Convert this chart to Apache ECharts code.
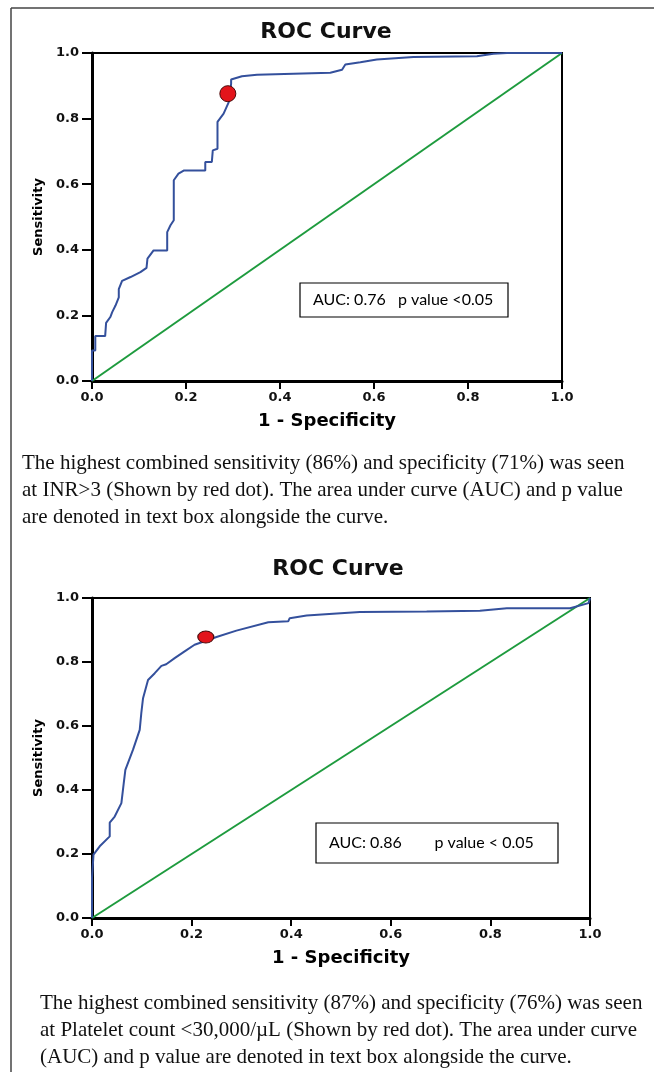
<!DOCTYPE html>
<html>
<head>
  <meta charset="utf-8">
  <title>ROC curves - INR and platelet count</title>
  <script src="https://cdn.jsdelivr.net/npm/echarts@6/dist/echarts.min.js"></script>
  <style>
    html, body { margin: 0; padding: 0; background: #fff; }
    #chart { width: 654px; height: 1072px; }
  </style>
</head>
<body>
  <div id="chart"></div>
<script>
  // INR ROC curve (1 - specificity, sensitivity)
  const inrFpr = [0, 0, 0.007, 0.007, 0.028, 0.030, 0.039, 0.043, 0.050, 0.057,
    0.057, 0.064, 0.082, 0.103, 0.116, 0.118, 0.131, 0.160, 0.160, 0.167,
    0.174, 0.174, 0.184, 0.196, 0.241, 0.241, 0.255, 0.257, 0.267, 0.267,
    0.280, 0.291, 0.296, 0.296, 0.319, 0.351, 0.507, 0.532, 0.539, 0.571,
    0.606, 0.684, 0.819, 0.854, 0.883, 1.0];
  const inrTpr = [0, 0.093, 0.093, 0.137, 0.137, 0.177, 0.195, 0.21, 0.23, 0.255,
    0.28, 0.305, 0.317, 0.332, 0.345, 0.373, 0.398, 0.398, 0.454, 0.475,
    0.49, 0.612, 0.632, 0.642, 0.642, 0.668, 0.668, 0.703, 0.708, 0.79,
    0.815, 0.85, 0.906, 0.919, 0.929, 0.934, 0.94, 0.949, 0.965, 0.972,
    0.98, 0.988, 0.99, 0.998, 1.0, 1.0];
  const inrCut = [0.289, 0.876];

  // Platelet count ROC curve
  const pltFpr = [0, 0, 0.003, 0.0155, 0.0356, 0.0356, 0.0456, 0.059, 0.0637, 0.067,
    0.0824, 0.0958, 0.099, 0.1025, 0.1125, 0.126, 0.1394, 0.149, 0.166, 0.186,
    0.206, 0.25, 0.29, 0.354, 0.394, 0.397, 0.431, 0.484, 0.538, 0.672,
    0.779, 0.833, 0.96, 0.997, 1.0];
  const pltTpr = [0, 0.125, 0.198, 0.224, 0.255, 0.298, 0.317, 0.359, 0.421, 0.463,
    0.526, 0.588, 0.64, 0.687, 0.744, 0.765, 0.788, 0.793, 0.812, 0.833,
    0.854, 0.878, 0.898, 0.924, 0.927, 0.937, 0.945, 0.951, 0.956, 0.958,
    0.96, 0.968, 0.968, 0.984, 1.0];
  const pltCut = [0.2285, 0.878];

  // reference diagonal
  const refX = [0, 1];
  const refY = [0, 1];

  const titles = ['ROC Curve', 'ROC Curve'];
  const boxTexts = ['AUC: 0.76   p value <0.05', 'AUC: 0.86        p value < 0.05'];
  const captions = [
    'The highest combined sensitivity (86%) and specificity (71%) was seen\n' +
    'at INR>3 (Shown by red dot). The area under curve (AUC) and p value\n' +
    'are denoted in text box alongside the curve.',
    'The highest combined sensitivity (87%) and specificity (76%) was seen\n' +
    'at Platelet count <30,000/\u00b5L (Shown by red dot). The area under curve\n' +
    '(AUC) and p value are denoted in text box alongside the curve.'
  ];

  function zip(xs, ys) {
    return xs.map(function (x, i) { return [x, ys[i]]; });
  }

  const boldFont = '"DejaVu Sans", sans-serif';

  function makeAxis(type, idx) {
    const isX = type === 'x';
    return {
      type: 'value',
      gridIndex: idx,
      min: 0,
      max: 1,
      interval: 0.2,
      name: isX ? '1 - Specificity' : 'Sensitivity',
      nameLocation: 'middle',
      nameGap: isX ? 31 : 47,
      nameTextStyle: {
        fontFamily: boldFont, fontWeight: 'bold', color: '#000',
        fontSize: isX ? 18 : 13
      },
      axisLine: { show: true, onZero: false, lineStyle: { color: '#000', width: 3 } },
      axisTick: { show: true, inside: false, length: isX ? 8 : 10, lineStyle: { color: '#000', width: 2 } },
      axisLabel: {
        margin: isX ? 10 : 13,
        fontFamily: boldFont, fontWeight: 'bold', fontSize: 13, color: '#111',
        formatter: function (v) { return v.toFixed(1); }
      },
      splitLine: { show: false }
    };
  }

  const chart = echarts.init(document.getElementById('chart'));

  const series = [];
  [[inrFpr, inrTpr, inrCut], [pltFpr, pltTpr, pltCut]].forEach(function (d, i) {
    series.push({
      type: 'line', xAxisIndex: i, yAxisIndex: i,
      data: zip(refX, refY), showSymbol: false, silent: true,
      lineStyle: { color: '#1e9b3e', width: 2 }
    });
    series.push({
      type: 'line', xAxisIndex: i, yAxisIndex: i,
      data: zip(d[0], d[1]), showSymbol: false, silent: true,
      lineStyle: { color: '#34509c', width: 2 }
    });
    series.push({
      type: 'scatter', xAxisIndex: i, yAxisIndex: i,
      data: [d[2]], symbol: 'circle',
      symbolSize: i === 0 ? 16 : [16, 12],
      itemStyle: { color: '#e3141b', borderColor: '#4a0a0a', borderWidth: 1, opacity: 1 },
      z: 5
    });
  });

  const titleStyle = { fontFamily: boldFont, fontWeight: 'bold', fontSize: 22, color: '#111' };

  chart.setOption({
    animation: false,
    backgroundColor: '#fff',
    title: [
      { text: titles[0], left: 326, top: 21, padding: 0, textAlign: 'center', textStyle: titleStyle },
      { text: titles[1], left: 338, top: 558, padding: 0, textAlign: 'center', textStyle: titleStyle }
    ],
    grid: [
      { left: 92, top: 53, width: 470, height: 328, show: true, borderColor: '#000', borderWidth: 2 },
      { left: 92, top: 598, width: 498, height: 320, show: true, borderColor: '#000', borderWidth: 2 }
    ],
    xAxis: [makeAxis('x', 0), makeAxis('x', 1)],
    yAxis: [makeAxis('y', 0), makeAxis('y', 1)],
    series: series,
    graphic: [
      // page frame (left and top rules)
      { type: 'line', shape: { x1: 11, y1: 8, x2: 11, y2: 1072 }, style: { stroke: '#444', lineWidth: 1.5 } },
      { type: 'line', shape: { x1: 11, y1: 8, x2: 654, y2: 8 }, style: { stroke: '#444', lineWidth: 1.5 } },
      // AUC boxes
      { type: 'rect', shape: { x: 300, y: 283, width: 208, height: 34 },
        style: { fill: '#fff', stroke: '#000', lineWidth: 1.2 }, z: 10 },
      { type: 'text', x: 313, y: 300, z: 11,
        style: { text: boxTexts[0], font: '16px Lato, "Open Sans", sans-serif', fill: '#000', verticalAlign: 'middle' } },
      { type: 'rect', shape: { x: 316, y: 823, width: 242, height: 40 },
        style: { fill: '#fff', stroke: '#000', lineWidth: 1.2 }, z: 10 },
      { type: 'text', x: 329, y: 843, z: 11,
        style: { text: boxTexts[1], font: '16px Lato, "Open Sans", sans-serif', fill: '#000', verticalAlign: 'middle' } },
      // captions
      { type: 'text', x: 22, y: 450,
        style: { text: captions[0], font: '21px "Liberation Serif", serif', fill: '#111', lineHeight: 27 } },
      { type: 'text', x: 40, y: 990,
        style: { text: captions[1], font: '21px "Liberation Serif", serif', fill: '#111', lineHeight: 27 } }
    ]
  });
</script>
</body>
</html>
